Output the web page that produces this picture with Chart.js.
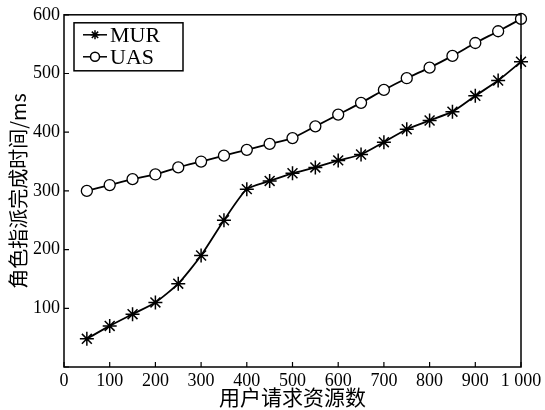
<!DOCTYPE html>
<html>
<head>
<meta charset="utf-8">
<script src="https://cdn.jsdelivr.net/npm/chart.js@4/dist/chart.umd.min.js"></script>
<style>
  html, body { margin: 0; padding: 0; background: #fff; }
  #wrap { width: 545px; height: 410px; }
</style>
</head>
<body>
<div id="wrap"><canvas id="chart"></canvas></div>
<script>
// 用户请求资源数
const resourceCounts = [50, 100, 150, 200, 250, 300, 350, 400, 450, 500,
                        550, 600, 650, 700, 750, 800, 850, 900, 950, 1000];
// 角色指派完成时间 (ms)
const murTimes = [48, 70, 90, 110, 142, 190, 250, 303, 317, 330,
                  340, 352, 362, 383, 405, 420, 435, 462, 488, 520];
const uasTimes = [300, 310, 320, 328, 340, 350, 360, 370, 380, 390,
                  410, 430, 450, 472, 492, 510, 530, 552, 572, 593];
const xTickLabels = ['0', '100', '200', '300', '400', '500', '600', '700', '800', '900', '1 000'];
const yTickLabels = ['', '100', '200', '300', '400', '500', '600'];

const serif = '"Liberation Serif", "Times New Roman", serif';
const cjk = '"Noto Sans CJK SC", sans-serif';

const toPoints = vals => vals.map((v, i) => ({ x: resourceCounts[i], y: v }));

// 坐标框 + 向内刻度 + 图例
const framePlugin = {
    id: 'frame',
    afterDraw(chart) {
        const { ctx, chartArea: a, scales } = chart;
        ctx.save();
        ctx.strokeStyle = '#000';
        ctx.lineWidth = 1.5;
        ctx.strokeRect(a.left, a.top, a.right - a.left, a.bottom - a.top);

        ctx.lineWidth = 1.2;
        ctx.beginPath();
        scales.x.ticks.forEach(t => {
            const px = scales.x.getPixelForValue(t.value);
            ctx.moveTo(px, a.bottom);
            ctx.lineTo(px, a.bottom - 5);
        });
        scales.y.ticks.forEach(t => {
            const py = scales.y.getPixelForValue(t.value);
            ctx.moveTo(a.left, py);
            ctx.lineTo(a.left + 5, py);
        });
        ctx.stroke();

        // 图例
        const bx = a.left + 10, by = a.top + 8, bw = 109, bh = 48;
        ctx.fillStyle = '#fff';
        ctx.fillRect(bx, by, bw, bh);
        ctx.lineWidth = 1.5;
        ctx.strokeRect(bx, by, bw, bh);
        chart.data.datasets.forEach((ds, i) => {
            const cy = by + 12 + i * 22;
            ctx.lineWidth = 1.5;
            ctx.strokeStyle = '#000';
            ctx.beginPath();
            ctx.moveTo(bx + 9, cy);
            ctx.lineTo(bx + 33, cy);
            ctx.stroke();
            ctx.fillStyle = '#fff';
            Chart.helpers.drawPoint(ctx, {
                pointStyle: ds.pointStyle,
                radius: 4.5,
                borderWidth: 1.3
            }, bx + 21, cy);
            ctx.fillStyle = '#000';
            ctx.font = '22px ' + serif;
            ctx.textBaseline = 'middle';
            ctx.textAlign = 'left';
            ctx.fillText(ds.label, bx + 36, cy + 1);
        });
        ctx.restore();
    }
};

new Chart(document.getElementById('chart'), {
    type: 'line',
    data: {
        datasets: [{
            label: 'MUR',
            data: toPoints(murTimes),
            borderColor: '#000',
            borderWidth: 1.8,
            pointStyle: 'star',
            pointRadius: 7,
            pointBorderWidth: 1.5,
            pointBorderColor: '#000',
            pointBackgroundColor: '#fff',
            tension: 0.2,
            clip: false
        }, {
            label: 'UAS',
            data: toPoints(uasTimes),
            borderColor: '#000',
            borderWidth: 1.8,
            pointStyle: 'circle',
            pointRadius: 5.5,
            pointBorderWidth: 1.3,
            pointBorderColor: '#000',
            pointBackgroundColor: '#fff',
            tension: 0.2,
            clip: false
        }]
    },
    options: {
        responsive: true,
        maintainAspectRatio: false,
        animation: false,
        layout: { padding: { top: 14, right: 24, left: 0, bottom: 0 } },
        plugins: { legend: { display: false }, tooltip: { enabled: false } },
        scales: {
            x: {
                type: 'linear',
                min: 0,
                max: 1000,
                afterFit: s => { s.height = 43; },
                grid: { display: false, drawTicks: false },
                border: { display: false },
                ticks: {
                    stepSize: 100,
                    padding: 3,
                    maxRotation: 0,
                    autoSkip: false,
                    color: '#000',
                    font: { family: serif, size: 18 },
                    callback: (v, i) => xTickLabels[i]
                },
                title: {
                    display: true,
                    text: '用户请求资源数',
                    color: '#000',
                    font: { family: cjk, size: 21 },
                    padding: { top: -6, bottom: 0 }
                }
            },
            y: {
                min: 0,
                max: 600,
                afterFit: s => { s.width = 64; },
                grid: { display: false, drawTicks: false },
                border: { display: false },
                ticks: {
                    stepSize: 100,
                    padding: 4,
                    color: '#000',
                    font: { family: serif, size: 18 },
                    callback: (v, i) => yTickLabels[i]
                },
                title: {
                    display: true,
                    text: '角色指派完成时间/ms',
                    color: '#000',
                    font: { family: cjk, size: 20 },
                    padding: { top: 6, bottom: 0 }
                }
            }
        }
    },
    plugins: [framePlugin]
});
</script>
</body>
</html>
